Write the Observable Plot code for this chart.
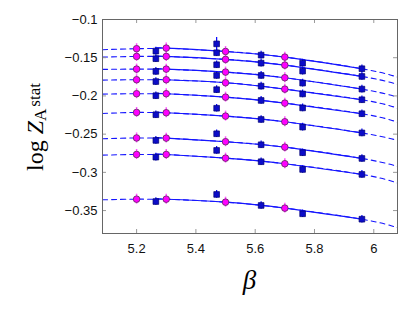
<!DOCTYPE html>
<html><head><meta charset="utf-8">
<script src="https://cdn.jsdelivr.net/npm/d3@7"></script>
<script src="https://cdn.jsdelivr.net/npm/@observablehq/plot@0.6"></script>
<style>body{margin:0;background:#fff}</style>
</head><body><div id="chart"></div>
<script>
// Tick values
const xTicks = [5.2, 5.4, 5.6, 5.8, 6];
const yTicks = [-0.35, -0.3, -0.25, -0.2, -0.15, -0.1];

// Fit curves at these beta values
const fitBeta = [5.085, 5.2, 5.265, 5.3, 5.5, 5.7, 5.96, 6.08];
const fit1 = [-0.1395, -0.1382, -0.1377, -0.1374, -0.1418, -0.1492, -0.1644, -0.1754];
const fit2 = [-0.1492, -0.1483, -0.1482, -0.1483, -0.1522, -0.1597, -0.1745, -0.1849];
const fit3 = [-0.1653, -0.1649, -0.1648, -0.1649, -0.1688, -0.1762, -0.1911, -0.2016];
const fit4 = [-0.1793, -0.1788, -0.1787, -0.1788, -0.1827, -0.1911, -0.2050, -0.2160];
const fit5 = [-0.1976, -0.1971, -0.1970, -0.1971, -0.2016, -0.2094, -0.2233, -0.2343];
const fit6 = [-0.2229, -0.2216, -0.2217, -0.2220, -0.2264, -0.2338, -0.2484, -0.2582];
const fit7 = [-0.2560, -0.2550, -0.2550, -0.2552, -0.2599, -0.2670, -0.2818, -0.2923];
const fit8 = [-0.2775, -0.2766, -0.2766, -0.2766, -0.2814, -0.2887, -0.3027, -0.3141];
const fit9 = [-0.3359, -0.3351, -0.3351, -0.3351, -0.3390, -0.3468, -0.3613, -0.3725];
const solidFrom = 5.265, solidTo = 5.96;

// Magenta circles (by beta column)
const magBeta = [5.2, 5.3, 5.5, 5.7];
const mag520 = [-0.1382, -0.1483, -0.1649, -0.1788, -0.1971, -0.2216, -0.2550, -0.2766, -0.3351];
const mag530 = [-0.1374, -0.1483, -0.1649, -0.1788, -0.1971, -0.2220, -0.2552, -0.2766, -0.3351];
const mag550 = [-0.1418, -0.1522, -0.1688, -0.1827, -0.2016, -0.2264, -0.2599, -0.2814, -0.3390];
const mag570 = [-0.1492, -0.1597, -0.1762, -0.1911, -0.2094, -0.2338, -0.2670, -0.2887, -0.3468];
const magErr = 0.0065;

// Blue squares (by beta column)
const blueBeta = [5.265, 5.47, 5.62, 5.76, 5.96];
const blue5265 = [-0.1414, -0.1513, -0.1679, -0.1812, -0.1997, -0.2246, -0.2582, -0.2801, -0.3382];
const blue547  = [-0.1319, -0.1435, -0.1592, -0.1732, -0.1918, -0.2161, -0.2495, -0.2713, -0.3289];
const blue562  = [-0.1466, -0.1571, -0.1732, -0.1872, -0.2059, -0.2308, -0.2639, -0.2861, -0.3433];
const blue576  = [-0.1571, -0.1675, -0.1832, -0.1974, -0.2157, -0.2408, -0.2743, -0.2962, -0.3542];
const blue596  = [-0.1644, -0.1745, -0.1911, -0.2050, -0.2233, -0.2484, -0.2818, -0.3027, -0.3613];
const blueErr547 = [0.0085, 0.005, 0.005, 0.005, 0.005, 0.005, 0.005, 0.005, 0.005];
const blueErr = 0.005;

// Build tables
const fits = [fit1, fit2, fit3, fit4, fit5, fit6, fit7, fit8, fit9];
const fitRows = [];
fits.forEach((vals, i) => fitBeta.forEach((b, j) => fitRows.push({curve: i, beta: b, v: vals[j]})));
const solidRows = fitRows.filter(d => d.beta >= solidFrom && d.beta <= solidTo);

const magCols = [mag520, mag530, mag550, mag570];
const magRows = [];
magBeta.forEach((b, j) => magCols[j].forEach(v => magRows.push({beta: b, v, err: magErr})));

const blueCols = [blue5265, blue547, blue562, blue576, blue596];
const blueRows = [];
blueBeta.forEach((b, j) => blueCols[j].forEach((v, i) =>
  blueRows.push({beta: b, v, err: j === 1 ? blueErr547[i] : blueErr})));

const W = 411, H = 309, mL = 102, mR = 14, mT = 19, mB = 76;
const innerW = W - mL - mR, innerH = H - mT - mB;
const fmt = d3.format("~g");
const tickLen = 4;

const plot = Plot.plot({
  width: W, height: H,
  marginLeft: mL, marginRight: mR, marginTop: mT, marginBottom: mB,
  x: {domain: [5.085, 6.08], label: null},
  y: {domain: [-0.38, -0.1], label: null},
  style: {fontFamily: "'Liberation Sans', Arial, sans-serif", fontSize: "13px", color: "#111", background: "#fff"},
  marks: [
    Plot.line(fitRows, {x: "beta", y: "v", z: "curve", curve: "natural", stroke: "#1515ff", strokeWidth: 1.1, strokeDasharray: "5,4"}),
    Plot.line(solidRows, {x: "beta", y: "v", z: "curve", curve: "natural", stroke: "#1515ff", strokeWidth: 1.1}),
    Plot.ruleX(blueRows, {x: "beta", y1: d => d.v - d.err, y2: d => d.v + d.err, stroke: "#0000ff", strokeWidth: 1.2}),
    Plot.ruleX(magRows, {x: "beta", y1: d => d.v - d.err, y2: d => d.v + d.err, stroke: "#ff55ff", strokeWidth: 1.5}),
    Plot.dot(blueRows, {x: "beta", y: "v", symbol: "square", r: 3.2, fill: "#0c0cc8", stroke: "#000070", strokeWidth: 0.7}),
    Plot.dot(magRows, {x: "beta", y: "v", r: 3.3, fill: "#ff00ff", stroke: "#5a2a5a", strokeWidth: 0.8}),
    Plot.ruleX(xTicks, {x: d => d, insetTop: innerH - tickLen, stroke: "#999"}),
    Plot.ruleX(xTicks, {x: d => d, insetBottom: innerH - tickLen, stroke: "#999"}),
    Plot.ruleY(yTicks, {y: d => d, insetRight: innerW - tickLen, stroke: "#999"}),
    Plot.ruleY(yTicks, {y: d => d, insetLeft: innerW - tickLen, stroke: "#999"}),
    Plot.frame({stroke: "#666", strokeWidth: 1}),
    Plot.axisX(xTicks, {tickSize: 0, tickPadding: 10, tickFormat: fmt, label: null}),
    Plot.axisY(yTicks, {tickSize: 0, tickPadding: 5, tickFormat: fmt, label: null})
  ]
});

const svg = d3.select(plot);
// x label
svg.append("text")
  .attr("x", mL + innerW / 2).attr("y", 289)
  .attr("text-anchor", "middle")
  .style("font-family", "'Liberation Serif', 'Times New Roman', serif")
  .style("font-style", "italic").style("font-size", "27px").attr("fill", "#000")
  .text("β");
// y label
const yl = svg.append("text")
  .attr("transform", "translate(43,127) rotate(-90)")
  .attr("text-anchor", "middle")
  .style("font-family", "'Liberation Serif', 'Times New Roman', serif")
  .style("font-size", "24px").attr("fill", "#000");
yl.append("tspan").text("log ");
yl.append("tspan").style("font-style", "italic").text("Z");
yl.append("tspan").style("font-size", "17px").attr("dy", 3).text("A");
yl.append("tspan").style("font-size", "17px").attr("dx", 2).attr("dy", -6).text("stat");

document.getElementById("chart").appendChild(plot);
</script>
</body></html>
